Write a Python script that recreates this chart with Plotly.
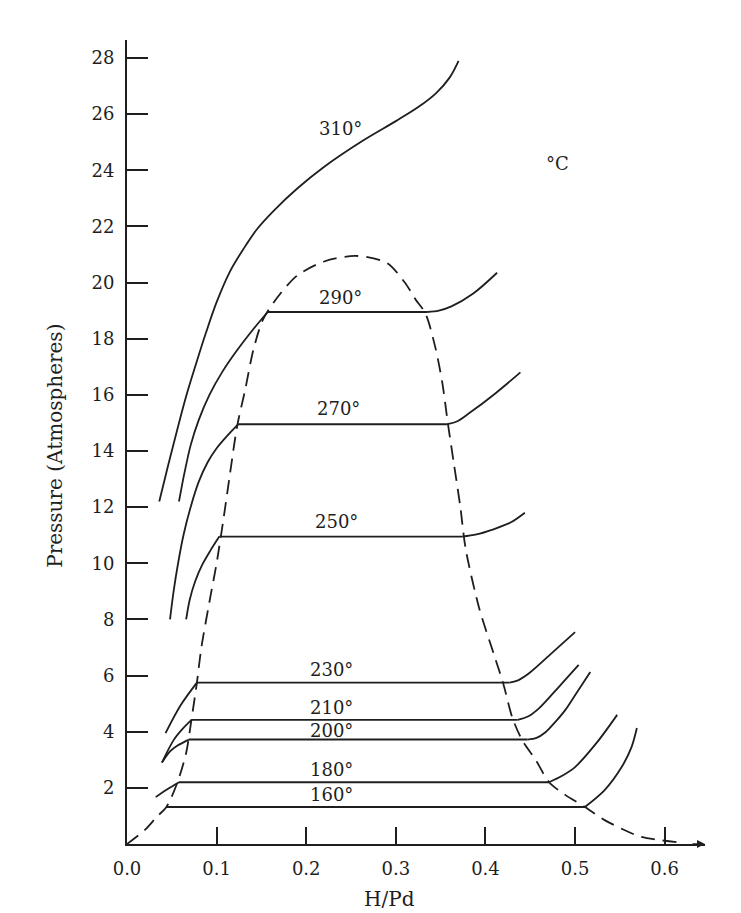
import plotly.graph_objects as go

# ---- data (H/Pd vs pressure, atm) ----
dome_x = [0.0, 0.02, 0.033, 0.044, 0.056, 0.066, 0.072, 0.078, 0.083, 0.093, 0.100, 0.108, 0.115, 0.123,
          0.132, 0.141, 0.152, 0.171, 0.190, 0.220, 0.255, 0.290, 0.310, 0.322, 0.333, 0.344, 0.352, 0.358,
          0.365, 0.372, 0.378, 0.393, 0.410, 0.420, 0.430, 0.441, 0.456, 0.471, 0.489, 0.511, 0.533, 0.555,
          0.574, 0.620]
dome_y = [0.0, 0.5, 0.96, 1.32, 2.17, 3.24, 4.45, 5.75, 7.0, 8.8, 10.0, 11.65, 13.2, 14.9,
          16.2, 17.6, 18.7, 19.6, 20.25, 20.75, 20.95, 20.7, 20.0, 19.4, 18.9, 17.7, 16.4, 15.0,
          13.5, 12.0, 10.5, 8.4, 6.7, 5.7, 4.5, 3.7, 3.0, 2.2, 1.75, 1.32, 0.85, 0.5,
          0.25, 0.04]

t310_x = [0.036, 0.046, 0.056, 0.066, 0.077, 0.088, 0.100, 0.115, 0.130, 0.145, 0.165, 0.190, 0.219,
          0.263, 0.300, 0.325, 0.345, 0.360, 0.370]
t310_y = [12.2, 13.5, 14.75, 15.95, 17.1, 18.2, 19.3, 20.4, 21.2, 21.9, 22.6, 23.35, 24.1,
          25.05, 25.75, 26.25, 26.75, 27.3, 27.9]

t290_left_x = [0.058, 0.064, 0.071, 0.080, 0.092, 0.106, 0.122, 0.140, 0.157]
t290_left_y = [12.2, 13.2, 14.2, 15.1, 16.0, 16.8, 17.55, 18.3, 18.95]
t290_flat_x = [0.157, 0.335]
t290_flat_y = [18.95, 18.95]
t290_right_x = [0.335, 0.348, 0.362, 0.386, 0.413]
t290_right_y = [18.95, 19.0, 19.15, 19.6, 20.35]

t270_left_x = [0.048, 0.052, 0.057, 0.063, 0.071, 0.080, 0.090, 0.100, 0.112, 0.124]
t270_left_y = [8.0, 9.0, 10.0, 11.0, 12.0, 12.9, 13.6, 14.1, 14.55, 14.95]
t270_flat_x = [0.124, 0.356]
t270_flat_y = [14.95, 14.95]
t270_right_x = [0.356, 0.368, 0.382, 0.411, 0.439]
t270_right_y = [14.95, 15.05, 15.35, 16.05, 16.8]

t250_left_x = [0.066, 0.070, 0.076, 0.084, 0.093, 0.103]
t250_left_y = [8.0, 8.7, 9.35, 9.95, 10.45, 10.95]
t250_flat_x = [0.103, 0.374]
t250_flat_y = [10.95, 10.95]
t250_right_x = [0.374, 0.390, 0.408, 0.428, 0.444]
t250_right_y = [10.95, 11.03, 11.2, 11.45, 11.8]

t230_left_x = [0.043, 0.060, 0.078]
t230_left_y = [3.95, 4.95, 5.75]
t230_flat_x = [0.078, 0.427]
t230_flat_y = [5.75, 5.75]
t230_right_x = [0.427, 0.437, 0.449, 0.474, 0.500]
t230_right_y = [5.75, 5.84, 6.09, 6.8, 7.55]

t210_left_x = [0.039, 0.052, 0.062, 0.072]
t210_left_y = [2.9, 3.7, 4.1, 4.42]
t210_flat_x = [0.072, 0.436]
t210_flat_y = [4.42, 4.42]
t210_right_x = [0.436, 0.448, 0.460, 0.482, 0.504]
t210_right_y = [4.42, 4.55, 4.84, 5.6, 6.38]

t200_left_x = [0.039, 0.048, 0.056, 0.069]
t200_left_y = [2.9, 3.3, 3.5, 3.72]
t200_flat_x = [0.069, 0.447]
t200_flat_y = [3.72, 3.72]
t200_right_x = [0.447, 0.457, 0.467, 0.478, 0.489, 0.500, 0.517]
t200_right_y = [3.72, 3.78, 3.98, 4.35, 4.77, 5.3, 6.13]

t180_left_x = [0.032, 0.045, 0.058]
t180_left_y = [1.67, 1.95, 2.2]
t180_flat_x = [0.058, 0.471]
t180_flat_y = [2.2, 2.2]
t180_right_x = [0.471, 0.485, 0.500, 0.524, 0.547]
t180_right_y = [2.2, 2.42, 2.74, 3.6, 4.6]

t160_flat_x = [0.044, 0.511]
t160_flat_y = [1.32, 1.32]
t160_right_x = [0.511, 0.533, 0.552, 0.563, 0.569]
t160_right_y = [1.32, 1.92, 2.74, 3.45, 4.13]

label_text = ["310°", "290°", "270°", "250°", "230°", "210°", "200°", "180°", "160°"]
label_x = [0.238, 0.238, 0.236, 0.234, 0.228, 0.228, 0.228, 0.228, 0.228]
label_y = [25.5, 19.45, 15.5, 11.5, 6.2, 4.85, 4.06, 2.67, 1.75]

x_tickvals = [0.0, 0.1, 0.2, 0.3, 0.4, 0.5, 0.6]
x_ticktext = ["0.0", "0.1", "0.2", "0.3", "0.4", "0.5", "0.6"]
y_tickvals = [2, 4, 6, 8, 10, 12, 14, 16, 18, 20, 22, 24, 26, 28]

INK = "#1e1e1e"
FONT = "DejaVu Serif"

fig = go.Figure()

curved = [
    (t310_x, t310_y),
    (t290_left_x, t290_left_y), (t290_right_x, t290_right_y),
    (t270_left_x, t270_left_y), (t270_right_x, t270_right_y),
    (t250_left_x, t250_left_y), (t250_right_x, t250_right_y),
    (t230_left_x, t230_left_y), (t230_right_x, t230_right_y),
    (t210_left_x, t210_left_y), (t210_right_x, t210_right_y),
    (t200_left_x, t200_left_y), (t200_right_x, t200_right_y),
    (t180_left_x, t180_left_y), (t180_right_x, t180_right_y),
    (t160_right_x, t160_right_y),
]
for xs, ys in curved:
    fig.add_trace(go.Scatter(x=xs, y=ys, mode="lines",
                             line=dict(color=INK, width=1.8, shape="spline", smoothing=0.9),
                             showlegend=False, hoverinfo="skip"))

flats = [
    (t290_flat_x, t290_flat_y), (t270_flat_x, t270_flat_y), (t250_flat_x, t250_flat_y),
    (t230_flat_x, t230_flat_y), (t210_flat_x, t210_flat_y), (t200_flat_x, t200_flat_y),
    (t180_flat_x, t180_flat_y), (t160_flat_x, t160_flat_y),
]
for xs, ys in flats:
    fig.add_trace(go.Scatter(x=xs, y=ys, mode="lines",
                             line=dict(color=INK, width=1.9),
                             showlegend=False, hoverinfo="skip"))

fig.add_trace(go.Scatter(x=dome_x, y=dome_y, mode="lines",
                         line=dict(color=INK, width=1.8, dash="14px,8px", shape="spline", smoothing=0.8),
                         showlegend=False, hoverinfo="skip"))

for t, x, y in zip(label_text, label_x, label_y):
    fig.add_annotation(x=x, y=y, text=t, showarrow=False,
                       font=dict(family=FONT, size=18, color=INK))

fig.add_annotation(x=0.48, y=24.25, text="°C", showarrow=False,
                   font=dict(family=FONT, size=18, color=INK))

# axis arrow at right end of x axis
fig.add_annotation(x=0.645, y=0, ax=-14, ay=0, text="", showarrow=True,
                   arrowhead=2, arrowsize=1, arrowwidth=1.6, arrowcolor=INK)

# axis titles
fig.add_annotation(xref="paper", yref="paper", x=-0.125, y=0.495, xanchor="center", yanchor="middle",
                   text="Pressure (Atmospheres)", textangle=-90, showarrow=False,
                   font=dict(family=FONT, size=20, color=INK))
fig.add_annotation(xref="paper", yref="paper", x=0.455, y=-0.068, xanchor="center", yanchor="middle",
                   text="H/Pd", showarrow=False, font=dict(family=FONT, size=20, color=INK))

fig.update_xaxes(range=[0, 0.645], tickvals=x_tickvals, ticktext=x_ticktext,
                 ticks="inside", ticklen=17, tickwidth=2, tickcolor=INK,
                 showline=True, linewidth=2, linecolor=INK, showgrid=False, zeroline=False,
                 ticklabelstandoff=7,
                 tickfont=dict(family=FONT, size=18, color=INK))
fig.update_yaxes(range=[0, 28.64], tickvals=y_tickvals,
                 ticks="inside", ticklen=21, tickwidth=2, tickcolor=INK,
                 showline=True, linewidth=2, linecolor=INK, showgrid=False, zeroline=False,
                 ticklabelstandoff=7,
                 tickfont=dict(family=FONT, size=18, color=INK))

# page body has an 8px margin, so the figure is sized to fit inside the window
fig.update_layout(width=733, height=905, margin=dict(l=119, r=36, t=32, b=69),
                  paper_bgcolor="white", plot_bgcolor="white", showlegend=False)

fig.write_html("out.html")
